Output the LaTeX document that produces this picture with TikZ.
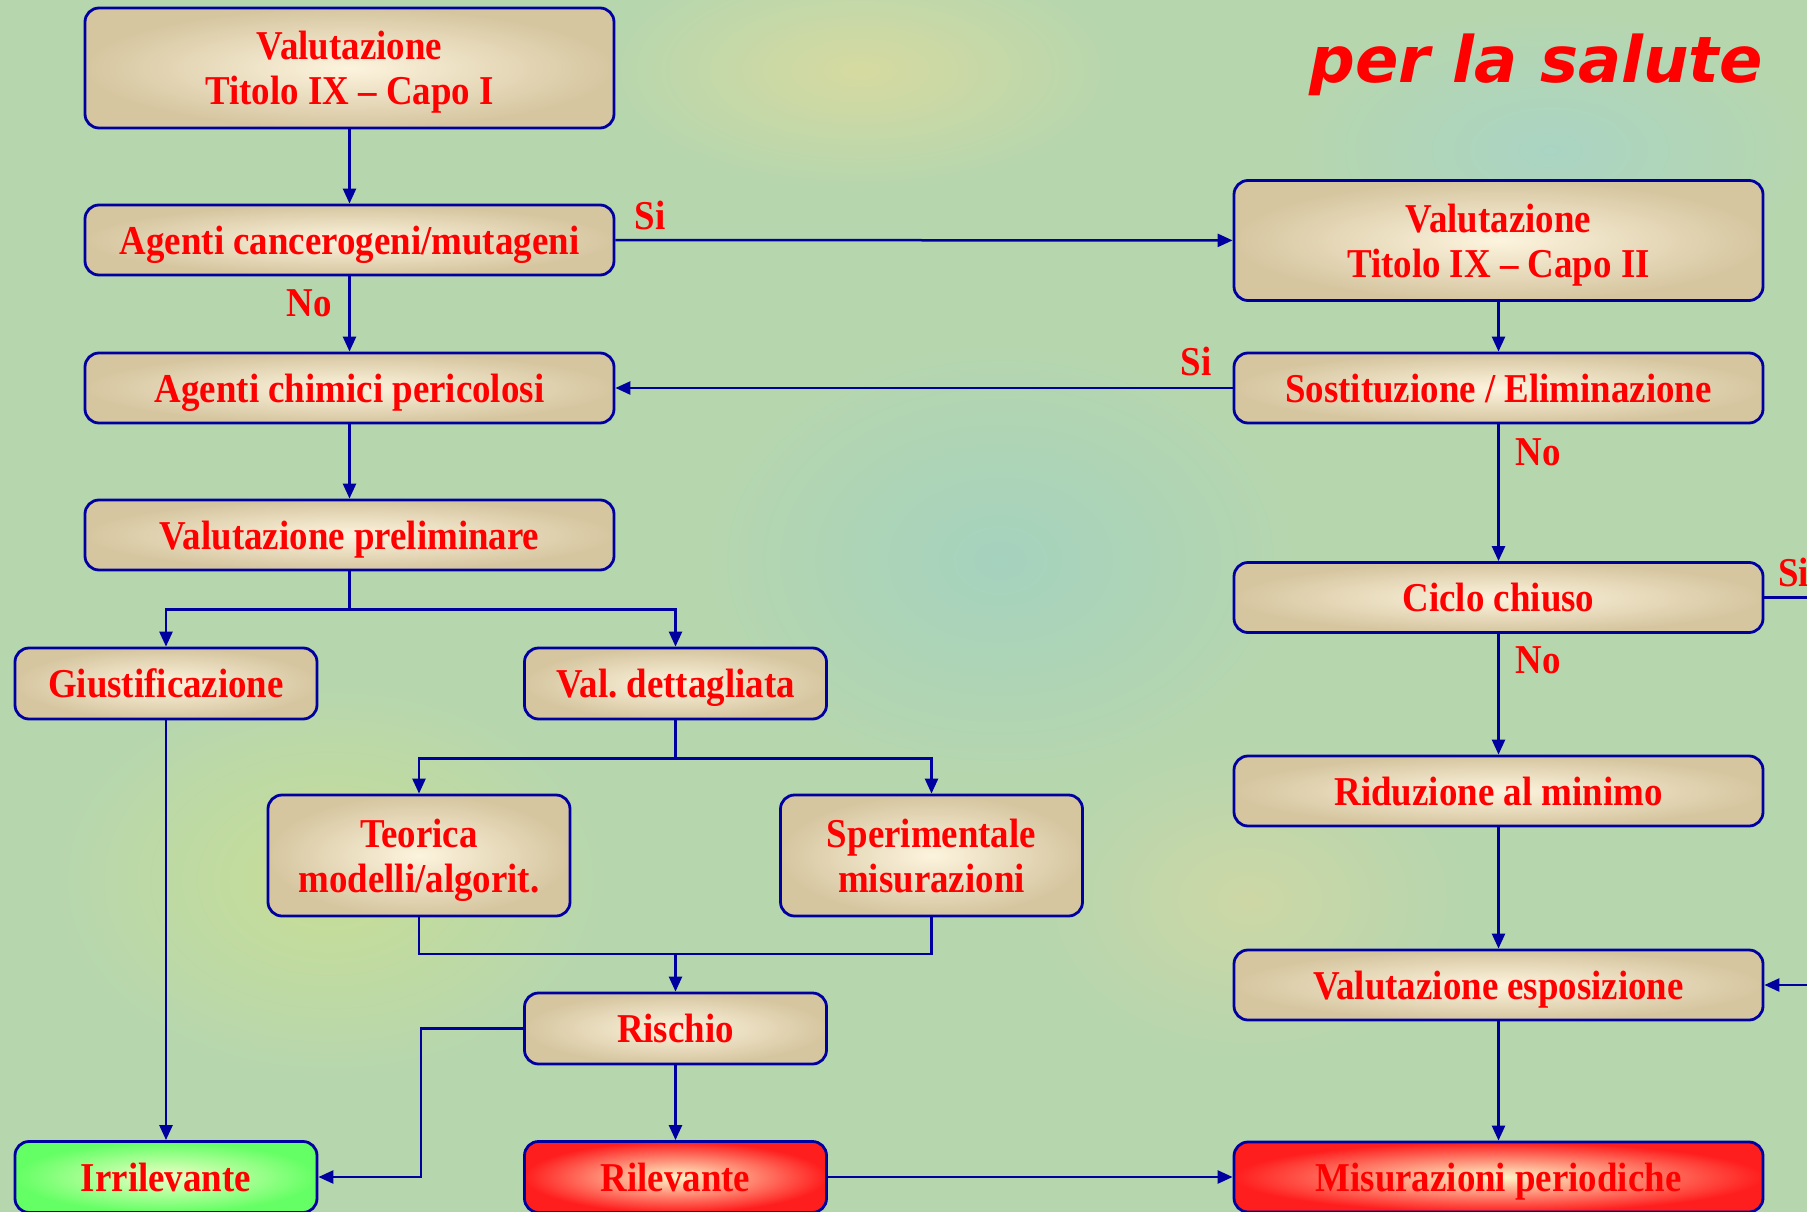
\documentclass[tikz,border=0pt]{standalone}
\usepackage{fontspec}
\usetikzlibrary{arrows.meta}
\newfontfamily\boxfont{Liberation Serif}[FakeStretch=0.9]
\newfontfamily\titlefont{DejaVu Sans}
\definecolor{navy}{RGB}{0,0,160}
\definecolor{bgc}{RGB}{182,214,174}
\definecolor{cream}{RGB}{253,244,222}
\definecolor{tanc}{RGB}{214,198,160}
\definecolor{redout}{RGB}{255,30,30}
\definecolor{redin}{RGB}{255,246,200}
\definecolor{grout}{RGB}{100,255,100}
\definecolor{grin}{RGB}{240,255,200}
\tikzset{
  box/.style={draw=navy, line width=2.8pt, rounded corners=14pt,
    inner color=cream, outer color=tanc, text={rgb,255:red,255;green,0;blue,0},
    font=\boxfont\bfseries\fontsize{41}{45}\selectfont, align=center, inner sep=0pt,
    text depth=0pt},
  widebox/.style={box, minimum width=529pt, minimum height=70pt},
  tallbox/.style={box, minimum width=529pt, minimum height=120pt},
  smallbox/.style={box, minimum width=302pt, minimum height=71pt},
  smalltall/.style={box, minimum width=302pt, minimum height=121pt},
  redbox/.style={inner color=redin, outer color=redout},
  greenbox/.style={inner color=grin, outer color=grout},
  conn/.style={draw=navy, line width=2.5pt},
  arr/.style={conn, -{Triangle[length=15pt,width=13pt]}},
  lab/.style={text={rgb,255:red,255;green,0;blue,0}, font=\boxfont\bfseries\fontsize{41}{45}\selectfont, inner sep=0pt}
}
\begin{document}
\begin{tikzpicture}[x=1pt,y=-1pt]
\useasboundingbox (0,0) rectangle (1807,1212);
\fill[bgc] (0,0) rectangle (1807,1212);
\clip (0,0) rectangle (1807,1212);
% soft background blotches
\shade[inner color={rgb,255:red,214;green,218;blue,160}, outer color=bgc] (860,70) ellipse (260 and 120);
\shade[inner color={rgb,255:red,200;green,222;blue,150}, outer color=bgc] (330,880) ellipse (280 and 200);
\shade[inner color={rgb,255:red,165;green,210;blue,190}, outer color=bgc] (1000,560) ellipse (300 and 220);
\shade[inner color={rgb,255:red,205;green,215;blue,165}, outer color=bgc] (1250,900) ellipse (220 and 160);
\shade[inner color={rgb,255:red,170;green,212;blue,195}, outer color=bgc] (1550,150) ellipse (260 and 140);

% title
\node[anchor=base east, text={rgb,255:red,255;green,0;blue,0}, font=\titlefont\bfseries\itshape\fontsize{64}{70}\selectfont, inner sep=0pt] (title) at (1763,83) {per la salute};

% left column
\node[tallbox] (A) at (349.5,68) {Valutazione\\Titolo IX – Capo I};
\node[widebox] (B) at (349.5,240) {Agenti cancerogeni/mutageni};
\node[widebox] (C) at (349.5,388) {Agenti chimici pericolosi};
\node[widebox] (D) at (349.5,535) {Valutazione preliminare};
\node[smallbox] (E) at (166,683.5) {Giustificazione};
\node[smallbox] (F) at (675.5,683.5) {Val.\ dettagliata};
\node[smalltall] (G) at (419,855.5) {Teorica\\modelli/algorit.};
\node[smalltall] (H) at (931.5,855.5) {Sperimentale\\misurazioni};
\node[smallbox] (I) at (675.5,1028.5) {Rischio};
\node[smallbox, greenbox] (J) at (166,1177) {Irrilevante};
\node[smallbox, redbox] (K) at (675.5,1177) {Rilevante};

% right column
\node[tallbox] (L) at (1498.5,240.5) {Valutazione\\Titolo IX – Capo II};
\node[widebox] (M) at (1498.5,388) {Sostituzione / Eliminazione};
\node[widebox] (N) at (1498.5,597.5) {Ciclo chiuso};
\node[widebox] (O) at (1498.5,791) {Riduzione al minimo};
\node[widebox] (P) at (1498.5,985) {Valutazione esposizione};
\node[widebox, redbox] (Q) at (1498.5,1177) {Misurazioni periodiche};

\coordinate (Nout) at (1810,597.5);
\coordinate (Pin) at (1810,985);
\coordinate (Jn) at (675.5,954);

% connectors
\draw[arr] (A) -- (B);
\draw[arr] (B) -- (C);
\draw[arr] (B) -- (L);
\draw[arr] (C) -- (D);
\draw[arr] (D.south) -- ++(0,38) -| (E.north);
\draw[arr] (D.south) -- ++(0,38) -| (F.north);
\draw[arr] (E) -- (J);
\draw[arr] (F.south) -- ++(0,38) -| (G.north);
\draw[arr] (F.south) -- ++(0,38) -| (H.north);
\draw[conn] (G.south) |- (Jn) -| (H.south);
\draw[arr] (Jn) -- (I.north);
\draw[arr] (I.west) -- (421,1028.5) |- (J.east);
\draw[arr] (I) -- (K);
\draw[arr] (K) -- (Q);
\draw[arr] (L) -- (M);
\draw[arr] (M) -- (C);
\draw[arr] (M) -- (N);
\draw[conn] (N.east) -- (Nout);
\draw[arr] (N) -- (O);
\draw[arr] (O) -- (P);
\draw[arr] (Pin) -- (P.east);
\draw[arr] (P) -- (Q);

% labels
\node[lab] (l1) at (650,215) {Si};
\node[lab] (l2) at (309,303) {No};
\node[lab] (l3) at (1196,361) {Si};
\node[lab] (l4) at (1538,452) {No};
\node[lab, anchor=west] (l5) at (1778,572) {Si};
\node[lab] (l6) at (1538,660) {No};
\end{tikzpicture}
\end{document}
